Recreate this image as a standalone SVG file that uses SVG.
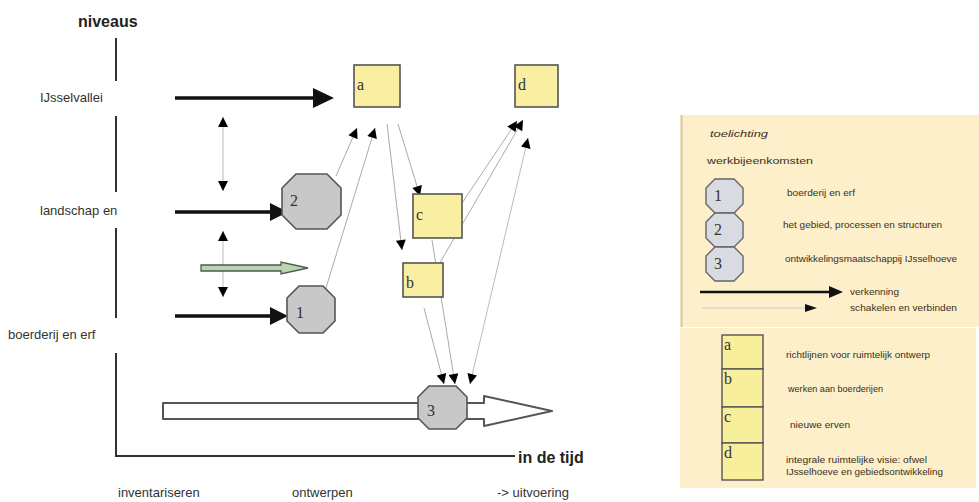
<svg xmlns="http://www.w3.org/2000/svg" width="979" height="502" viewBox="0 0 979 502">
<style>
.lbl{font-family:"Liberation Sans",Arial,sans-serif;font-size:13px;fill:#333}
.big{font-family:"Liberation Sans",Arial,sans-serif;font-size:16px;font-weight:bold;fill:#222}
.ser{font-family:"Liberation Serif","Times New Roman",serif;font-size:16px;fill:#333}
.sm{font-family:"Liberation Sans",Arial,sans-serif;font-size:9.5px;fill:#3a3020}
.box{fill:#f8efa2;stroke:#555;stroke-width:1.6}
.oct{fill:#c8c8c8;stroke:#555;stroke-width:1.6}
.loct{fill:#d9dbe2;stroke:#666;stroke-width:1.4}
.lbox{fill:#f7ef9c;stroke:#555;stroke-width:1.4}
.axis{stroke:#333;stroke-width:2;fill:none}
.thin{stroke:#aaa;stroke-width:1;fill:none;marker-end:url(#ah)}
.thick{stroke:#111;stroke-width:3.5;fill:none}
.dbl{stroke:#bbb;stroke-width:1;fill:none;marker-end:url(#ah);marker-start:url(#ah)}
</style>
<defs>
<marker id="ah" viewBox="0 0 10 10" refX="10" refY="5" markerWidth="11" markerHeight="10" markerUnits="userSpaceOnUse" orient="auto-start-reverse"><path d="M0,0 L10,5 L0,10 z" fill="#000"/></marker>
</defs>
<rect x="0" y="0" width="979" height="502" fill="#fff"/>

<g id="axes">
<text class="big" x="78" y="27">niveaus</text>
<path class="axis" d="M116,38 V81 M116,116 V192 M116,228 V318 M116,353 V456 H515"/>
<text class="big" x="518" y="463">in de tijd</text>
<text class="lbl" x="40" y="102">IJsselvallei</text>
<text class="lbl" x="40" y="215">landschap en</text>
<text class="lbl" x="8" y="339">boerderij en erf</text>
<text class="lbl" x="118" y="497">inventariseren</text>
<text class="lbl" x="292" y="497">ontwerpen</text>
<text class="lbl" x="497" y="497">-&gt; uitvoering</text>
</g>

<g id="connectors">
<path class="thick" d="M175,98 H316"/><path d="M313,88 L334,98 L313,108 z" fill="#111"/>
<path class="thick" d="M175,212 H272"/><path d="M270,203 L288,212 L270,221 z" fill="#111"/>
<path class="thick" d="M175,316 H272"/><path d="M270,307 L288,316 L270,325 z" fill="#111"/>
<path class="dbl" d="M223,117 V191"/>
<path class="dbl" d="M223,231 V297"/>
<path d="M201,265 H281 V262 L308,268 L281,274 V271 H201 z" fill="#b9d5b2" stroke="#4e5a4e" stroke-width="1.3"/>
<path class="thin" d="M336,176 L357,128"/>
<path class="thin" d="M326,288 L375,128"/>
<path class="thin" d="M387,124 L402,250"/>
<path class="thin" d="M398,124 L420,196"/>
<path class="thin" d="M452,218 L517,121"/>
<path class="thin" d="M438,266 L523,120"/>
<path class="dbl" d="M470,384 L528,138"/>
<path class="thin" d="M424,308 L444,384"/>
<path class="thin" d="M432,240 L455,384"/>
</g>

<g id="timeline">
<path d="M163,403 H484 V396 L552,411 L484,426 V419 H163 z" fill="#fff" stroke="#555" stroke-width="2" stroke-linejoin="round"/>
</g>

<g id="node-a"><rect class="box" x="354" y="65" width="46" height="42"/><text class="ser" x="357" y="90">a</text></g>
<g id="node-d"><rect class="box" x="515" y="65" width="43" height="42"/><text class="ser" x="518" y="90">d</text></g>
<g id="node-c"><rect class="box" x="413" y="194" width="49" height="44"/><text class="ser" x="416" y="220">c</text></g>
<g id="node-b"><rect class="box" x="403" y="263" width="40" height="34"/><text class="ser" x="406" y="288">b</text></g>
<g id="node-2"><path class="oct" d="M296,174 H327 L341,188 V215 L327,229 H296 L282,215 V188 z"/><text class="ser" x="290" y="206">2</text></g>
<g id="node-1"><path class="oct" d="M299,286 H323 L335,298 V321 L323,333 H299 L287,321 V298 z"/><text class="ser" x="296" y="318">1</text></g>
<g id="node-3"><path class="oct" d="M429,386 H456 L467,397 V418 L456,429 H429 L418,418 V397 z"/><text class="ser" x="427" y="416">3</text></g>

<g id="legend">
<rect x="681" y="115" width="298" height="212" fill="#fcefca"/>
<path d="M681.5,115 V327" stroke="#d9c49a" stroke-width="2"/>
<rect x="680" y="328" width="296" height="160" fill="#fcefca"/>
<text class="sm" x="710" y="137" font-style="italic" font-size="10" textLength="58" lengthAdjust="spacingAndGlyphs">toelichting</text>
<text class="sm" x="707" y="164" font-size="10.5" textLength="106" lengthAdjust="spacingAndGlyphs">werkbijeenkomsten</text>
<path class="loct" d="M715,179 H734 L743,188 V204 L734,213 H715 L706,204 V188 z"/>
<text class="ser" x="714" y="201" font-size="10">1</text>
<path class="loct" d="M715,213 H734 L743,222 V238 L734,247 H715 L706,238 V222 z"/>
<text class="ser" x="714" y="235" font-size="10">2</text>
<path class="loct" d="M715,247 H734 L743,256 V272 L734,281 H715 L706,272 V256 z"/>
<text class="ser" x="714" y="269" font-size="10">3</text>
<text class="sm" x="787" y="196" textLength="68" lengthAdjust="spacingAndGlyphs">boerderij en erf</text>
<text class="sm" x="783" y="228" textLength="159" lengthAdjust="spacingAndGlyphs">het gebied, processen en structuren</text>
<text class="sm" x="785" y="262" textLength="172" lengthAdjust="spacingAndGlyphs">ontwikkelingsmaatschappij IJsselhoeve</text>
<path d="M700,292 H830" stroke="#111" stroke-width="2.5"/><path d="M829,286 L843,292 L829,298 z" fill="#111"/>
<path d="M702,308 H806" stroke="#ccc" stroke-width="1"/><path d="M805,304 L817,308 L805,312 z" fill="#111"/>
<text class="sm" x="850" y="295" textLength="49" lengthAdjust="spacingAndGlyphs">verkenning</text>
<text class="sm" x="850" y="311" textLength="107" lengthAdjust="spacingAndGlyphs">schakelen en verbinden</text>
<rect class="lbox" x="722" y="335" width="41" height="34"/><text class="ser" x="724" y="350" font-size="10">a</text>
<rect class="lbox" x="722" y="369" width="41" height="38"/><text class="ser" x="724" y="384" font-size="10">b</text>
<rect class="lbox" x="722" y="407" width="41" height="36"/><text class="ser" x="724" y="422" font-size="10">c</text>
<rect class="lbox" x="722" y="443" width="41" height="37"/><text class="ser" x="724" y="458" font-size="10">d</text>
<text class="sm" x="786" y="358" textLength="144" lengthAdjust="spacingAndGlyphs">richtlijnen voor ruimtelijk ontwerp</text>
<text class="sm" x="788" y="392" textLength="95" lengthAdjust="spacingAndGlyphs">werken aan boerderijen</text>
<text class="sm" x="790" y="428" textLength="60" lengthAdjust="spacingAndGlyphs">nieuwe erven</text>
<text class="sm" x="786" y="463" textLength="141" lengthAdjust="spacingAndGlyphs">integrale ruimtelijke visie:  ofwel</text>
<text class="sm" x="786" y="475" textLength="157" lengthAdjust="spacingAndGlyphs">IJsselhoeve en gebiedsontwikkeling</text>
</g>
</svg>
